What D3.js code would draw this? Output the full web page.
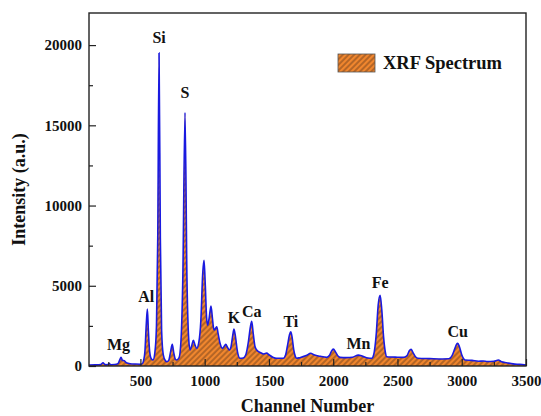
<!DOCTYPE html>
<html>
<head>
<meta charset="utf-8">
<script src="https://cdn.jsdelivr.net/npm/d3@7"></script>
<style>
  body { margin: 0; background: #fff; }
  text { font-family: "Liberation Serif", "Times New Roman", serif; font-weight: bold; fill: #111; }
</style>
</head>
<body>
<div id="chart"></div>
<script>
// spectrum
const channels = [100, 150, 190, 209, 225, 245, 256, 270, 300, 325, 340, 349, 360, 375, 390, 420, 460, 500,
  515, 525, 535, 545, 554, 562, 572, 585, 598, 612, 625, 635, 645, 655, 665, 678, 695, 707, 720, 735, 748,
  760, 772, 782, 800, 815, 830, 847, 862, 875, 886, 900, 912, 925, 938, 955, 970, 985, 995, 1005, 1015,
  1023, 1035, 1049, 1060, 1068, 1075, 1085, 1094, 1105, 1120, 1138, 1150, 1164, 1178, 1192, 1205, 1218,
  1228, 1240, 1255, 1275, 1300, 1320, 1340, 1355, 1366, 1378, 1392, 1405, 1430, 1460, 1483, 1500, 1530,
  1560, 1612, 1630, 1645, 1660, 1670, 1680, 1693, 1705, 1716, 1740, 1790, 1825, 1850, 1900, 1950, 1970,
  1985, 2001, 2020, 2040, 2053, 2100, 2150, 2196, 2230, 2270, 2300, 2315, 2335, 2350, 2365, 2378, 2392,
  2405, 2417, 2450, 2500, 2546, 2575, 2592, 2606, 2620, 2640, 2660, 2750, 2850, 2900, 2925, 2945, 2960,
  2969, 2982, 3000, 3015, 3026, 3080, 3130, 3168, 3200, 3250, 3285, 3310, 3350, 3400, 3450, 3500];
const intensity = [60, 70, 90, 200, 90, 80, 160, 80, 90, 150, 400, 540, 350, 330, 200, 140, 120, 110,
  150, 350, 900, 2500, 3550, 2200, 900, 450, 370, 800, 2500, 8000, 19500, 8000, 2200, 700, 320, 270, 350, 900, 1350,
  800, 420, 370, 500, 1500, 5500, 15800, 5500, 1800, 1000, 1300, 1600, 1300, 1100, 1500, 2800, 5800, 6580, 5000, 3000,
  2550, 3000, 3730, 3000, 2400, 2240, 2350, 2440, 2000, 1400, 1100, 1200, 1350, 1150, 1000, 1200, 1900,
  2300, 1800, 900, 480, 500, 700, 1500, 2400, 2780, 2000, 1200, 1000, 850, 750, 800, 700, 550,
  480, 480, 700, 1300, 1950, 2130, 1800, 1000, 600, 480, 520, 650, 790, 700, 600, 540, 650,
  900, 1050, 850, 600, 540, 520, 550, 680, 600, 500, 480, 700, 2000, 3800, 4400, 3500, 1800,
  900, 580, 560, 550, 540, 650, 950, 1040, 850, 580, 480, 460, 440, 450, 650, 1050, 1360,
  1410, 1200, 700, 450, 370, 350, 300, 310, 280, 300, 370, 260, 200, 130, 100, 60];

const elements = ["Mg", "Al", "Si", "S", "K", "Ca", "Ti", "Mn", "Fe", "Cu"];
const elementChannel = [330, 545, 645, 847, 1228, 1366, 1670, 2196, 2365, 2969];
const elementLabelY = [1000, 4000, 20100, 16700, 2700, 3050, 2400, 1050, 4850, 1800];

const xTicks = [500, 1000, 1500, 2000, 2500, 3000, 3500];
const yTicks = [0, 5000, 10000, 15000, 20000];

const margin = {top: 13, right: 15, bottom: 50, left: 89},
    width = 541 - margin.left - margin.right,
    height = 416 - margin.top - margin.bottom;

const x = d3.scaleLinear().domain([100, 3500]).range([0, width]);
const y = d3.scaleLinear().domain([0, 22000]).range([height, 0]);

const svg = d3.select("#chart").append("svg")
    .attr("width", 541)
    .attr("height", 416);

// hatch pattern
const pat = svg.append("defs").append("pattern")
    .attr("id", "hatch")
    .attr("patternUnits", "userSpaceOnUse")
    .attr("width", 4).attr("height", 4)
    .attr("patternTransform", "rotate(45)");
pat.append("rect").attr("width", 4).attr("height", 4).attr("fill", "#f0862e");
pat.append("line").attr("x1", 1).attr("y1", 0).attr("x2", 1).attr("y2", 4)
    .attr("stroke", "#5a3418").attr("stroke-width", 0.8);

const g = svg.append("g")
    .attr("transform", "translate(" + margin.left + "," + margin.top + ")");

const data = channels.map((c, i) => ({c: c, v: intensity[i]}));

g.append("path")
    .datum(data)
    .attr("fill", "url(#hatch)")
    .attr("d", d3.area().x(d => x(d.c)).y0(height).y1(d => y(d.v)).curve(d3.curveMonotoneX));

g.append("path")
    .datum(data)
    .attr("fill", "none")
    .attr("stroke", "#1a1ae0")
    .attr("stroke-width", 1.6)
    .attr("d", d3.line().x(d => x(d.c)).y(d => y(d.v)).curve(d3.curveMonotoneX));

// axes, ticks pointing in
g.append("g")
    .attr("transform", "translate(0," + height + ")")
    .call(d3.axisBottom(x).tickValues(xTicks).tickFormat(d3.format("d"))
        .tickSizeInner(-7).tickSizeOuter(0).tickPadding(9));
g.append("g")
    .attr("transform", "translate(0," + height + ")")
    .call(d3.axisBottom(x).tickValues(d3.range(250, 3500, 500)).tickSizeInner(-4).tickSizeOuter(0).tickFormat(""));
g.append("g")
    .call(d3.axisLeft(y).tickValues(yTicks).tickFormat(d3.format("d"))
        .tickSizeInner(-7).tickSizeOuter(0).tickPadding(7));
g.append("g")
    .call(d3.axisLeft(y).tickValues(d3.range(2500, 22000, 5000)).tickSizeInner(-4).tickSizeOuter(0).tickFormat(""));

g.selectAll(".domain").remove();
g.selectAll(".tick line").attr("stroke", "#222").attr("stroke-width", 1.2);
g.selectAll(".tick text")
    .style("font-family", "'Liberation Serif', serif")
    .style("font-weight", "bold")
    .style("font-size", "15px")
    .attr("fill", "#111");

g.append("rect")
    .attr("width", width).attr("height", height)
    .attr("fill", "none").attr("stroke", "#222").attr("stroke-width", 1.4);

// element labels
g.selectAll(".elem")
    .data(elements)
    .enter().append("text")
    .attr("class", "elem")
    .attr("x", (d, i) => x(elementChannel[i]))
    .attr("y", (d, i) => y(elementLabelY[i]))
    .attr("text-anchor", "middle")
    .style("font-size", "16px")
    .text(d => d);

// legend
g.append("rect")
    .attr("x", 249).attr("y", 41).attr("width", 37).attr("height", 18)
    .attr("fill", "url(#hatch)").attr("stroke", "#555").attr("stroke-width", 0.8);
g.append("text")
    .attr("x", 294).attr("y", 56)
    .style("font-size", "18.5px")
    .text("XRF Spectrum");

// axis titles
svg.append("text")
    .attr("x", margin.left + width / 2).attr("y", 412)
    .attr("text-anchor", "middle")
    .style("font-size", "18px")
    .text("Channel Number");
svg.append("text")
    .attr("transform", "translate(25," + (margin.top + height / 2) + ") rotate(-90)")
    .attr("text-anchor", "middle")
    .style("font-size", "18px")
    .text("Intensity (a.u.)");
</script>
</body>
</html>
